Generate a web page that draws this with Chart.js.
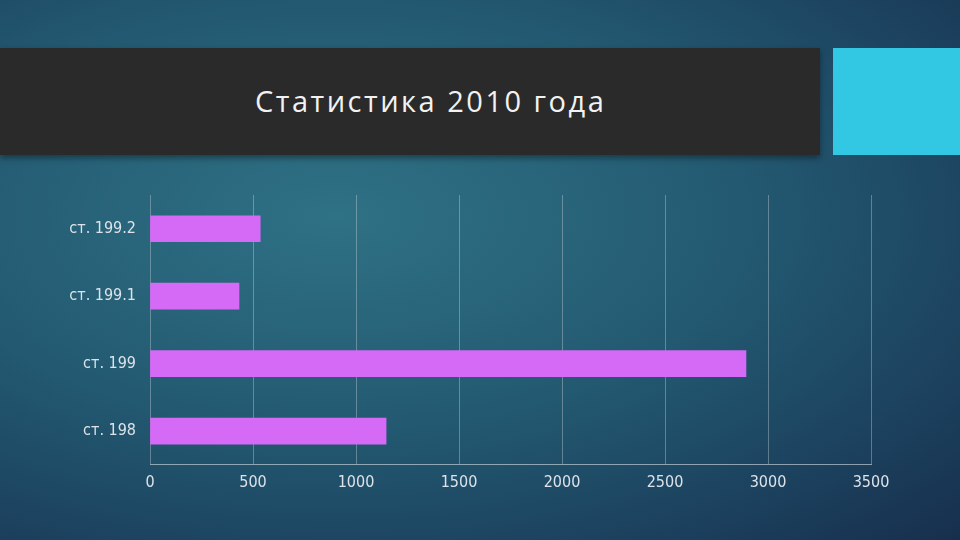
<!DOCTYPE html>
<html>
<head>
<meta charset="utf-8">
<script src="https://cdn.jsdelivr.net/npm/chart.js@4"></script>
<style>
  body { margin: 0; width: 960px; height: 540px; overflow: hidden;
    background: radial-gradient(ellipse at 35% 40%, #2f7185 0%, #235a72 45%, #1b3f5c 80%, #172f4d 100%);
    font-family: "Open Sans", sans-serif; }
  #titlebar { position: absolute; left: 0; top: 48px; width: 820px; height: 107px; background: #2a2a2a;
    box-shadow: 0 3px 6px rgba(0,0,0,0.4); }
  #titlebar h1 { margin: 0; position: absolute; left: 255px; top: 33px; font-weight: normal;
    font-size: 29px; color: #f2f2f2; letter-spacing: 2.5px; }
  #accent { position: absolute; left: 833px; top: 48px; width: 127px; height: 107px; background: #32c8e4; }
  #wrap { position: absolute; left: 0; top: 0; width: 960px; height: 540px; }
</style>
</head>
<body>
<div id="titlebar"><h1>Статистика 2010 года</h1></div>
<div id="accent"></div>
<div id="wrap"><canvas id="c"></canvas></div>
<script>
const categories = ['ст. 199.2', 'ст. 199.1', 'ст. 199', 'ст. 198']
const values = [535, 432, 2893, 1146]

const ctx = document.getElementById('c').getContext('2d')
new Chart(ctx, {
  type: 'bar',
  data: {
    labels: categories,
    datasets: [{
      data: values,
      backgroundColor: '#d56af6',
      barThickness: 26
    }]
  },
  options: {
    indexAxis: 'y',
    responsive: true,
    maintainAspectRatio: false,
    animation: false,
    layout: { padding: { top: 195, right: 89, bottom: 40, left: 0 } },
    plugins: { legend: { display: false }, tooltip: { enabled: false } },
    scales: {
      x: {
        min: 0, max: 3500,
        ticks: { stepSize: 500, color: '#dde3e8', font: { size: 16, family: 'DejaVu Sans Condensed' }, padding: 8,
          callback: v => String(v) },
        grid: { color: 'rgba(220,225,230,0.35)', drawTicks: false },
        border: { color: 'rgba(220,225,230,0.6)' }
      },
      y: {
        afterFit: s => { s.width = 150 },
        ticks: { color: '#dde3e8', font: { size: 16, family: 'DejaVu Sans Condensed' }, padding: 6 },
        grid: { display: false },
        border: { display: false }
      }
    }
  }
})
</script>
</body>
</html>
